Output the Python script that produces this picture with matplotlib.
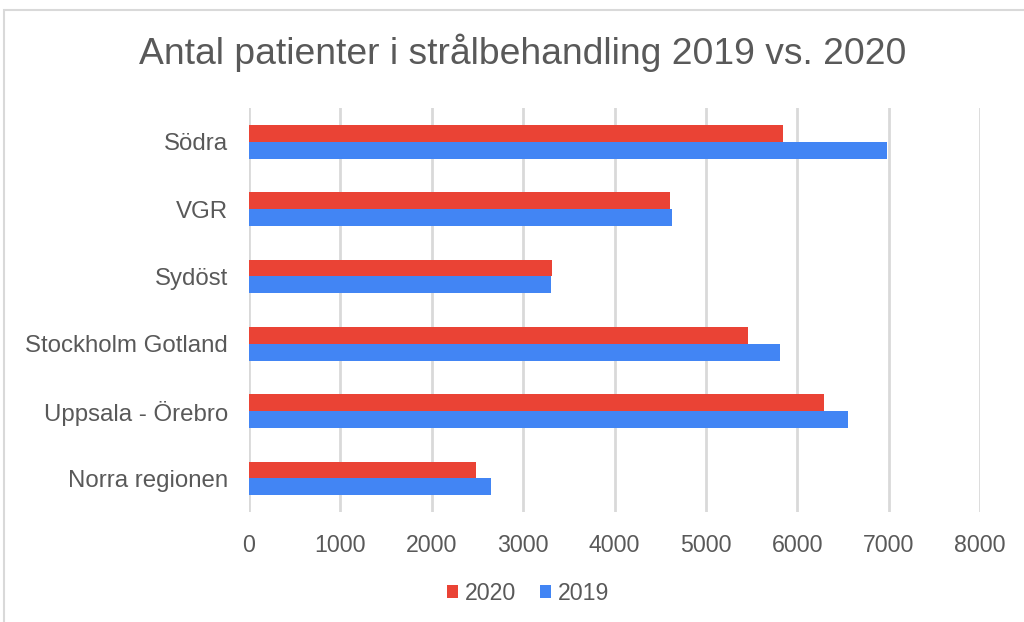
import matplotlib
matplotlib.use("Agg")
import matplotlib.pyplot as plt
from matplotlib.patches import Rectangle
import numpy as np

plt.rcParams['font.family'] = ['Liberation Sans', 'DejaVu Sans']

categories = ["Norra regionen", "Uppsala - Örebro", "Stockholm Gotland", "Sydöst", "VGR", "Södra"]
values_2020 = [2480, 6290, 5465, 3320, 4610, 5840]
values_2019 = [2645, 6560, 5815, 3305, 4625, 6980]
xticks = [0, 1000, 2000, 3000, 4000, 5000, 6000, 7000, 8000]

c2020 = "#EA4335"
c2019 = "#4285F4"
txt = "#595959"

fig = plt.figure(figsize=(10.24, 6.22), dpi=100)
fig.patches.append(Rectangle((4/1024, -0.1), 1.2, (1 - 10/622) + 0.1, transform=fig.transFigure,
                             fill=False, edgecolor="#d9d9d9", linewidth=1.5, zorder=0))
ax = fig.add_axes([249/1024, 1 - 512/622, (980 - 249)/1024, (512 - 108)/622])

y = np.arange(len(categories))
h = 0.25
ax.barh(y + h/2, values_2020, height=h, color=c2020, label="2020", zorder=3)
ax.barh(y - h/2, values_2019, height=h, color=c2019, label="2019", zorder=3)

ax.set_xlim(0, 8000)
ax.set_ylim(-0.5, len(categories) - 0.5)
ax.set_xticks(xticks)
ax.set_xticklabels([str(v) for v in xticks])
ax.set_yticks(y)
ax.set_yticklabels(categories)
ax.tick_params(axis='both', length=0, labelsize=16.7, colors=txt)
ax.tick_params(axis='y', labelsize=17.3)
ax.tick_params(axis='x', pad=16)
ax.tick_params(axis='y', pad=15)
ax.grid(axis='x', color="#d9d9d9", linewidth=2, zorder=0)
for s in ax.spines.values():
    s.set_visible(False)

fig.text(522.5/1024, 1 - 53/622, "Antal patienter i strålbehandling 2019 vs. 2020",
         ha='center', va='center', fontsize=26.8, color=txt)

handles, labels = ax.get_legend_handles_labels()
leg = fig.legend(handles, labels, loc='center', bbox_to_anchor=(528/1024, 1 - 593/622),
                 ncol=2, frameon=False, fontsize=16.7, handlelength=0.5, handleheight=0.5,
                 handletextpad=0.3, columnspacing=1.0)
for t in leg.get_texts():
    t.set_color(txt)

fig.savefig("out.png", dpi=100, facecolor="white")
